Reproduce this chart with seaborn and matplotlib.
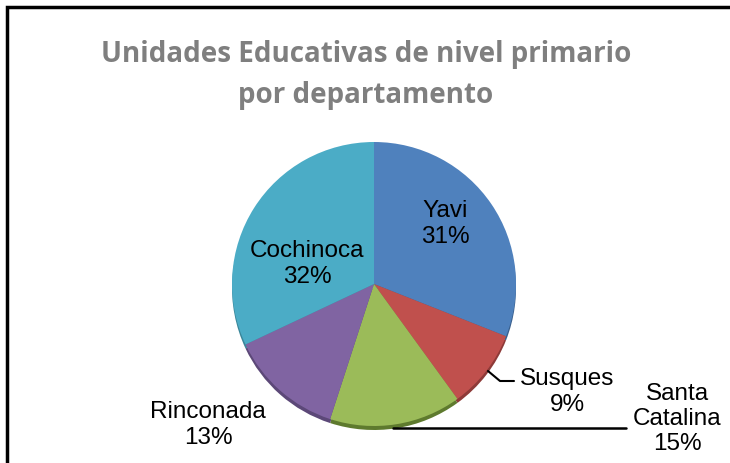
import matplotlib
matplotlib.use("Agg")
import matplotlib.pyplot as plt
import seaborn as sns

# Data
departments = ["Yavi", "Susques", "Santa Catalina", "Rinconada", "Cochinoca"]
values = [31, 9, 15, 13, 32]
label_texts = ["Yavi\n31%", "Susques\n9%", "Santa\nCatalina\n15%", "Rinconada\n13%", "Cochinoca\n32%"]
title_text = "Unidades Educativas de nivel primario\npor departamento"

colors = ["#4F81BD", "#C0504D", "#9BBB59", "#8064A2", "#4BACC6"]
dark = ["#3A5F8C", "#8E3A38", "#5E7A2E", "#5C4878", "#3A8699"]

sns.set_theme(style="white")
plt.rcParams['font.family'] = ['Liberation Sans', 'DejaVu Sans']

W, H = 730, 463
fig = plt.figure(figsize=(W / 100, H / 100), dpi=100)
ax = fig.add_axes([0, 0, 1, 1])
ax.set_xlim(0, W)
ax.set_ylim(0, H)
ax.axis("off")

cx, cy, r = 374, H - 284, 142

# 3D-like depth edge
ax.pie(values, colors=dark, startangle=90, counterclock=False,
       center=(cx, cy - 4), radius=r, wedgeprops=dict(linewidth=0))
ax.pie(values, colors=colors, startangle=90, counterclock=False,
       center=(cx, cy), radius=r, wedgeprops=dict(linewidth=0))
ax.set_xlim(0, W)
ax.set_ylim(0, H)
ax.set_aspect("auto")

fs = 17.5
pos = [(445, 224), (567, 392), (677, 419), (208, 425), (307, 264)]
for (x, y), t in zip(pos, label_texts):
    ax.text(x, H - y, t, ha="center", va="center", fontsize=fs,
            color="black", linespacing=1.2)

# leader lines
ax.plot([488, 500, 514], [H - 371, H - 381, H - 381], color="black", lw=1.5)
ax.plot([393, 626], [H - 428, H - 428], color="black", lw=1.8)

# title
ax.text(366, H - 75, title_text, ha="center", va="center", fontsize=20,
        fontweight="bold", color="#7F7F7F", family=["Open Sans", "DejaVu Sans"],
        linespacing=1.55)

# frame (top and left)
ax.plot([7, 7, W], [0, H - 7, H - 7], color="black", lw=2.5, solid_joinstyle="miter")

fig.savefig("out.png", dpi=100)
